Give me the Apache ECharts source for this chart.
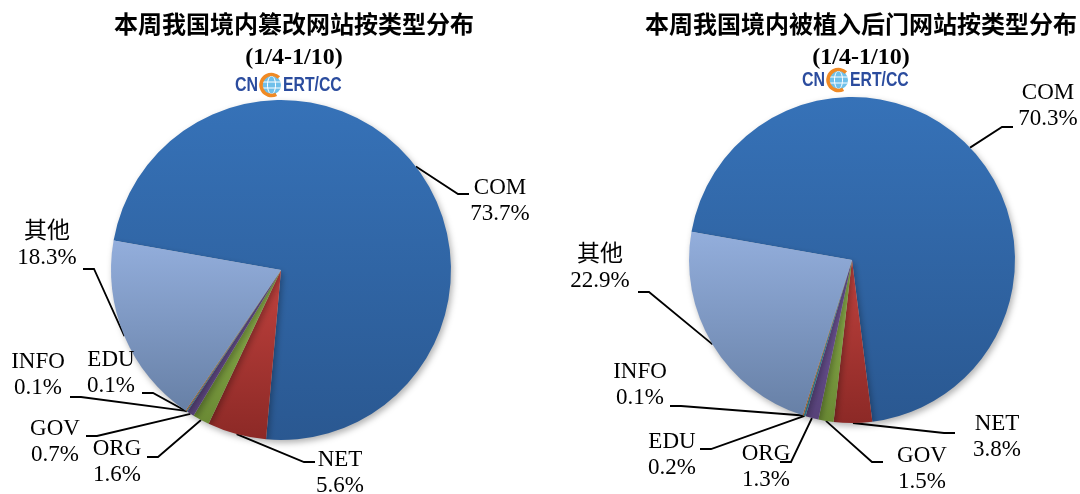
<!DOCTYPE html>
<html>
<head>
<meta charset="utf-8">
<title>ECharts</title>
<script src="https://cdn.jsdelivr.net/npm/echarts@6/dist/echarts.min.js"></script>
<style>html,body{margin:0;padding:0;background:#fff;}</style>
</head>
<body>
<div id="main" style="width:1080px;height:494px;"></div>
<script>
// data
var categoriesLeft = ['COM', 'NET', 'ORG', 'GOV', 'EDU', 'INFO', '其他'];
var valuesLeft = [73.7, 5.6, 1.6, 0.7, 0.1, 0.1, 18.3];
var categoriesRight = ['COM', 'NET', 'GOV', 'ORG', 'EDU', 'INFO', '其他'];
var valuesRight = [70.3, 3.8, 1.5, 1.3, 0.2, 0.1, 22.9];
var titleLeft = '本周我国境内篡改网站按类型分布';
var titleRight = '本周我国境内被植入后门网站按类型分布';
var period = '(1/4-1/10)';

// office style colours, by slice position (top -> bottom of gradient)
var sliceColors = [
    ['#3672B8', '#2A5891'],
    ['#C0423E', '#8C2926'],
    ['#92B650', '#6A8934'],
    ['#7459A0', '#574279'],
    ['#4BACC6', '#36849A'],
    ['#F79646', '#C9722C'],
    ['#93AEDC', '#6780A6']
];

// label centre and the point where the leader line meets the label
var labelPosLeft = [
    {x: 500, y: 201, ex: 469, ey: 194},
    {x: 340, y: 473, ex: 315, ey: 462},
    {x: 117, y: 462, ex: 147, ey: 457},
    {x: 55, y: 442, ex: 86, ey: 436},
    {x: 111, y: 373, ex: 142, ey: 393},
    {x: 38, y: 375, ex: 70, ey: 397},
    {x: 47, y: 245, ex: 83, ey: 269}
];
var labelPosRight = [
    {x: 1048, y: 106, ex: 1013, ey: 127},
    {x: 997, y: 437, ex: 955, ey: 433},
    {x: 922, y: 469, ex: 883, ey: 462},
    {x: 766, y: 467, ex: 780, ey: 462},
    {x: 672, y: 455, ex: 700, ey: 449},
    {x: 640, y: 385, ex: 670, ey: 406},
    {x: 600, y: 268, ex: 638, ey: 292}
];

function buildData(names, values) {
    var out = [];
    for (var i = 0; i < names.length; i++) {
        var c = sliceColors[i];
        out.push({
            name: names[i],
            value: values[i],
            itemStyle: {
                color: new echarts.graphic.LinearGradient(0, 0, 0, 1, [
                    {offset: 0, color: c[0]}, {offset: 1, color: c[1]}
                ])
            }
        });
    }
    return out;
}

function makePie(names, values, center, radius, positions) {
    return {
        type: 'pie',
        center: center,
        radius: radius,
        startAngle: 170,
        clockwise: true,
        avoidLabelOverlap: false,
        animation: false,
        emphasis: {disabled: true},
        itemStyle: {
            borderWidth: 0,
            shadowBlur: 6,
            shadowOffsetX: 2,
            shadowOffsetY: 3,
            shadowColor: 'rgba(0,0,0,0.3)'
        },
        label: {
            show: true,
            position: 'outside',
            formatter: '{b}\n{c}%',
            color: '#000',
            fontSize: 23,
            lineHeight: 26,
            fontFamily: '"Liberation Serif", "Noto Sans CJK SC"'
        },
        labelLine: {
            show: true,
            length: 10,
            length2: 10,
            lineStyle: {color: '#000', width: 1.8}
        },
        labelLayout: function (p) {
            var pos = positions[p.dataIndex];
            var s = p.labelLinePoints ? p.labelLinePoints[0] : [pos.ex, pos.ey];
            var dir = s[0] > pos.ex ? 1 : -1;
            return {
                x: pos.x,
                y: pos.y,
                align: 'center',
                verticalAlign: 'middle',
                labelLinePoints: [s, [pos.ex + dir * 11, pos.ey], [pos.ex, pos.ey]]
            };
        },
        data: buildData(names, values)
    };
}

function logo(x, y) {
    var font = '"Liberation Sans", sans-serif';
    return {
        type: 'group',
        x: x,
        y: y,
        silent: true,
        children: [
            {type: 'text', x: 0, y: 0, scaleX: 0.76, style: {text: 'CN', fontSize: 21, fontWeight: 'bold', fontFamily: font, fill: '#2B4C9E', align: 'left', verticalAlign: 'middle'}},
            {type: 'circle', shape: {cx: 36.5, cy: 0, r: 9.5}, style: {fill: '#6FC0EA', stroke: null}},
            {type: 'ellipse', shape: {cx: 36.5, cy: 0, rx: 4, ry: 9}, style: {fill: null, stroke: '#fff', lineWidth: 1}},
            {type: 'line', shape: {x1: 27.5, y1: -3, x2: 45.5, y2: -3}, style: {stroke: '#fff', lineWidth: 1}},
            {type: 'line', shape: {x1: 27.5, y1: 3, x2: 45.5, y2: 3}, style: {stroke: '#fff', lineWidth: 1}},
            {type: 'arc', shape: {cx: 36.5, cy: 0, r: 10.5, startAngle: Math.PI * 0.35, endAngle: Math.PI * 1.75}, style: {stroke: '#F08A24', lineWidth: 3.5, fill: null}},
            {type: 'text', x: 48, y: 0, scaleX: 0.75, style: {text: 'ERT/CC', fontSize: 21, fontWeight: 'bold', fontFamily: font, fill: '#2B4C9E', align: 'left', verticalAlign: 'middle'}}
        ]
    };
}

var myChart = echarts.init(document.getElementById('main'));
var titleStyle = {fontSize: 24, fontWeight: 'bold', color: '#000', lineHeight: 28, fontFamily: '"Noto Sans CJK SC", sans-serif'};
var subStyle = {fontSize: 24, fontWeight: 'bold', color: '#000', lineHeight: 28, fontFamily: '"Liberation Serif", serif'};

myChart.setOption({
    backgroundColor: '#fff',
    title: [
        {text: titleLeft, subtext: period, left: 289, top: 5, textAlign: 'center', itemGap: 6, textStyle: titleStyle, subtextStyle: subStyle},
        {text: titleRight, subtext: period, left: 856, top: 5, textAlign: 'center', itemGap: 6, textStyle: titleStyle, subtextStyle: subStyle}
    ],
    graphic: [logo(235, 85), logo(802, 80)],
    series: [
        makePie(categoriesLeft, valuesLeft, [281, 270], 170, labelPosLeft),
        makePie(categoriesRight, valuesRight, [852, 260], 163, labelPosRight)
    ]
});
</script>
</body>
</html>
